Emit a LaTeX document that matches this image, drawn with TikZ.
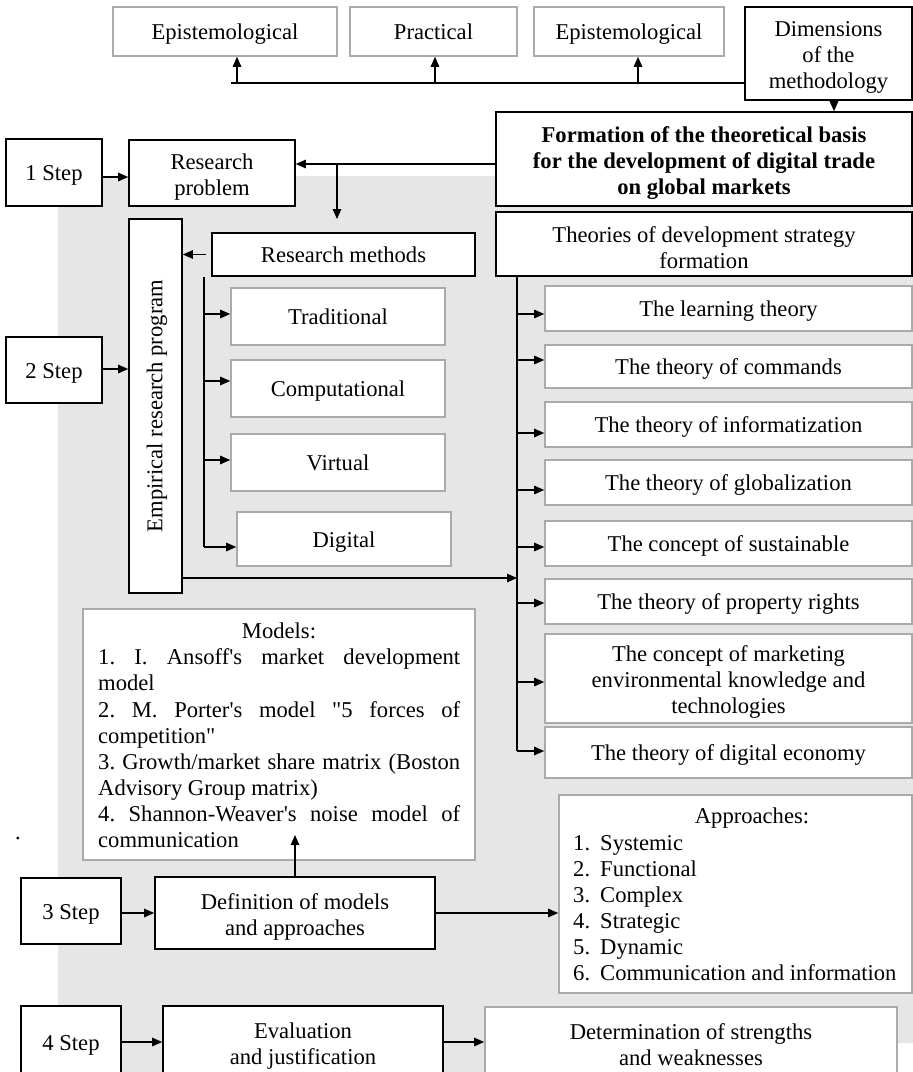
\documentclass[tikz,border=0pt]{standalone}
\usepackage{fontspec}
\setmainfont{Liberation Serif}
\usetikzlibrary{arrows.meta}
\definecolor{bggray}{RGB}{230,230,230}
\definecolor{gbord}{RGB}{170,170,170}
\newcommand{\fsz}{\fontsize{22.6}{26}\selectfont\frenchspacing}
\newcommand{\rs}{\rule{0pt}{23pt}}
\newcommand{\mybox}[7]{%
  \pgfmathsetmacro\bw{#5-#3}\pgfmathsetmacro\bh{#6-#4}%
  \node[#1, minimum width=\bw pt, minimum height=\bh pt] (#2) at ({(#3+#5)/2},{(#4+#6)/2}) {#7};}
\begin{document}
\begin{tikzpicture}[x=1pt,y=-1pt,
  every node/.style={font=\fsz},
  bbox/.style={draw=black, line width=1.6pt, fill=white, inner sep=0pt, align=center},
  gbox/.style={draw=gbord, line width=1.6pt, fill=white, inner sep=0pt, align=center},
  sl/.style={text height=16pt, text depth=0pt},
  conn/.style={line width=1.2pt},
  arr/.style={conn, -{Triangle[length=10pt,width=8.5pt]}},
  txt/.style={inner sep=0pt, anchor=base west},
  ctxt/.style={inner sep=0pt, anchor=base},
]
\path[use as bounding box] (0,0) rectangle (913,1072);
\clip (0,0) rectangle (913,1072);
% background
\fill[bggray] (58,176) -- (913,176) -- (913,1043) -- (485,1043) -- (485,1072) -- (58,1072) -- cycle;

% top row
\mybox{gbox,sl}{ep1}{113}{7}{337}{56}{Epistemological}
\mybox{gbox,sl}{prac}{350}{7}{517}{56}{Practical}
\mybox{gbox,sl}{ep2}{534}{7}{724}{56}{Epistemological}
\mybox{bbox}{dim}{745}{7}{912}{100}{\rs Dimensions\\of the\\methodology}
\mybox{bbox}{form}{496}{112}{912}{206}{\bfseries\rs Formation of the theoretical basis\\\bfseries for the development of digital trade\\\bfseries on global markets}
\mybox{bbox}{theo}{496}{212}{912}{276}{\rs Theories of development strategy\\formation}

% step 1
\mybox{bbox,sl}{step1}{6}{139}{102}{206}{1 Step}
\mybox{bbox}{rp}{129}{140}{295}{206}{\rs Research\\problem}

% step 2
\mybox{bbox,sl}{step2}{6}{337}{102}{403}{2 Step}
\mybox{bbox}{emp}{129}{219}{182}{593}{}
\node[rotate=90, inner sep=0pt] (emptxt) at (157,406) {Empirical research program};
\mybox{bbox,sl}{rm}{212}{233}{475}{276}{Research methods}
\mybox{gbox,sl}{trad}{231}{288}{445}{345}{Traditional}
\mybox{gbox,sl}{comp}{231}{360}{445}{417}{Computational}
\mybox{gbox,sl}{virt}{231}{434}{445}{491}{Virtual}
\mybox{gbox,sl}{digi}{237}{512}{451}{566}{Digital}

% theories
\mybox{gbox,sl}{learn}{545}{286}{912}{331}{The learning theory}
\mybox{gbox,sl}{cmd}{545}{345}{912}{388}{The theory of commands}
\mybox{gbox,sl}{info}{545}{402}{912}{447}{The theory of informatization}
\mybox{gbox,sl}{glob}{545}{460}{912}{505}{The theory of globalization}
\mybox{gbox,sl}{sust}{545}{521}{912}{566}{The concept of sustainable}
\mybox{gbox,sl}{prop}{545}{579}{912}{624}{The theory of property rights}
\mybox{gbox}{mkt}{545}{634}{912}{723}{\rs The concept of marketing\\environmental knowledge and\\technologies}
\mybox{gbox,sl}{tdig}{545}{727}{912}{778}{The theory of digital economy}

% models
\mybox{gbox}{models}{83}{609}{475}{860}{}
\node[ctxt] (mt) at (279,638) {Models:};
\node[txt] (m1) at (98,664) {\makebox[362pt][s]{1. I. Ansoff\textquotesingle s market development}};
\node[txt] (m2) at (98,690) {model};
\node[txt] (m3) at (98,717) {\makebox[362pt][s]{2. M. Porter\textquotesingle s model \textquotedbl 5 forces of}};
\node[txt] (m4) at (98,743) {competition\textquotedbl};
\node[txt] (m5) at (98,769) {\makebox[362pt][s]{3. Growth/market share matrix (Boston}};
\node[txt] (m6) at (98,795) {Advisory Group matrix)};
\node[txt] (m7) at (98,821) {\makebox[362pt][s]{4. Shannon-Weaver\textquotesingle s noise model of}};
\node[txt] (m8) at (98,847) {communication};
\node[inner sep=0pt] (dot) at (18,838) {.};

% approaches
\mybox{gbox}{app}{559}{795}{912}{993}{}
\node[ctxt] (at) at (752,823) {Approaches:};
\node[txt] (a1) at (573,850) {\makebox[27pt][l]{1.}Systemic};
\node[txt] (a2) at (573,876) {\makebox[27pt][l]{2.}Functional};
\node[txt] (a3) at (573,902) {\makebox[27pt][l]{3.}Complex};
\node[txt] (a4) at (573,928) {\makebox[27pt][l]{4.}Strategic};
\node[txt] (a5) at (573,954) {\makebox[27pt][l]{5.}Dynamic};
\node[txt] (a6) at (573,980) {\makebox[27pt][l]{6.}Communication and information};

% step 3
\mybox{bbox,sl}{step3}{21}{878}{121}{944}{3 Step}
\mybox{bbox}{def}{155}{877}{435}{949}{\rs Definition of models\\and approaches}

% step 4
\mybox{bbox,sl}{step4}{21}{1006}{121}{1078}{4 Step}
\mybox{bbox}{eval}{163}{1006}{443}{1078}{\rs Evaluation\\and justification}
\mybox{gbox}{det}{485}{1007}{897}{1076}{\rs Determination of strengths\\and weaknesses}

% connectors: top
\coordinate (hl) at (231,83);
\draw[conn] (dim.west |- hl) -- (hl);
\coordinate (u1) at (237,83);
\coordinate (u2) at (435,83);
\coordinate (u3) at (638,83);
\draw[arr] (u1) -- (u1 |- ep1.south);
\draw[arr] (u2) -- (u2 |- prac.south);
\draw[arr] (u3) -- (u3 |- ep2.south);
\coordinate (d1) at (834,100);
\draw[arr] (d1 |- dim.south) -- (d1 |- form.north);

% formation to research problem
\coordinate (fr) at (0,164);
\draw[arr] (form.west |- fr) -- (rp.east |- fr);
\coordinate (dn) at (337,164);
\coordinate (dnend) at (337,219);
\draw[arr] (dn) -- (dnend);
\coordinate (s1) at (0,177);
\draw[arr] (step1.east |- s1) -- (rp.west |- s1);
\coordinate (s2) at (0,369);
\draw[arr] (step2.east |- s2) -- (emp.west |- s2);
\draw[arr, shorten <=5pt] (rm.west) -- (emp.east |- rm.west);

% research methods branches
\coordinate (rv0) at (204,277);
\coordinate (rv1) at (204,547);
\draw[conn] (rv0) -- (rv1);
\foreach \yy/\b in {314/trad,381/comp,460/virt,547/digi}{
  \coordinate (tmp) at (204,\yy);
  \draw[arr] (tmp) -- (tmp -| \b.west);
}

% theories branches
\coordinate (tv0) at (517,276);
\coordinate (tv1) at (517,751);
\draw[conn] (tv0) -- (tv1);
\foreach \yy/\b in {314/learn,360/cmd,433/info,490/glob,547/sust,603/prop,682/mkt,751/tdig}{
  \coordinate (tmp) at (517,\yy);
  \draw[arr] (tmp) -- (tmp -| \b.west);
}
\coordinate (e1) at (0,578);
\draw[arr] (emp.east |- e1) -- (tv0 |- e1);

% step 3
\coordinate (mup) at (295,835);
\draw[arr] (def.north) -- (mup);
\coordinate (s3) at (0,913);
\draw[arr] (step3.east |- s3) -- (def.west |- s3);
\draw[arr] (def.east |- s3) -- (app.west |- s3);

% step 4
\coordinate (s4) at (0,1042);
\draw[arr] (step4.east |- s4) -- (eval.west |- s4);
\draw[arr] (eval.east |- s4) -- (det.west |- s4);
\end{tikzpicture}
\end{document}
